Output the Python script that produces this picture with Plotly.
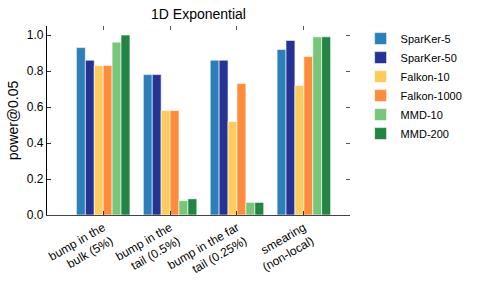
import plotly.graph_objects as go

categories = ["bump in the<br>bulk (5%)", "bump in the<br>tail (0.5%)",
              "bump in the far<br>tail (0.25%)", "smearing<br>(non-local)"]
series_names = ["SparKer-5", "SparKer-50", "Falkon-10", "Falkon-1000", "MMD-10", "MMD-200"]
sparker5 = [0.93, 0.78, 0.86, 0.92]
sparker50 = [0.86, 0.78, 0.86, 0.97]
falkon10 = [0.83, 0.58, 0.52, 0.72]
falkon1000 = [0.83, 0.58, 0.73, 0.88]
mmd10 = [0.96, 0.08, 0.07, 0.99]
mmd200 = [1.00, 0.09, 0.07, 0.99]
y_ticks = [0.0, 0.2, 0.4, 0.6, 0.8, 1.0]

values = [sparker5, sparker50, falkon10, falkon1000, mmd10, mmd200]
colors = ["#2c7fb8", "#253494", "#fecc5c", "#fd8d3c", "#78c679", "#238443"]
xpos = list(range(len(categories)))

font = "Liberation Sans, Arial, Helvetica, sans-serif"
fig = go.Figure()
for name, vals, c in zip(series_names, values, colors):
    fig.add_trace(go.Bar(x=xpos, y=vals, name=name, marker=dict(color=c, line=dict(color="white", width=0.6))))

# invisible trace for mirrored axes
fig.add_trace(go.Scatter(x=xpos, y=[0]*4, xaxis="x2", yaxis="y2", mode="markers",
                         marker=dict(opacity=0), showlegend=False, hoverinfo="skip"))

xr = [-0.84, 3.69]
yr = [0, 1.05]
fig.update_layout(
    width=479, height=287,
    margin=dict(l=47, r=129, t=26, b=72, autoexpand=False),
    paper_bgcolor="white", plot_bgcolor="white",
    font=dict(family=font, size=12, color="black"),
    title=dict(text="1D Exponential", x=(47 + 350) / 2 / 479, xanchor="center",
               y=1 - 14 / 287, yanchor="middle", font=dict(size=14)),
    barmode="group", bargap=0.2, bargroupgap=0,
    showlegend=True,
    legend=dict(x=1.035, y=1.01, xanchor="left", yanchor="top", font=dict(size=11),
                itemwidth=30, tracegroupgap=0, bgcolor="rgba(0,0,0,0)"),
    xaxis=dict(range=xr, tickvals=xpos, ticktext=categories, tickangle=-30, automargin=False,
               ticks="inside", ticklen=4, tickcolor="#333", showline=True, linecolor="#444",
               linewidth=1.2, showgrid=False, zeroline=False, tickfont=dict(size=12)),
    yaxis=dict(range=yr, tickvals=y_ticks, tickformat=".1f", ticks="inside", ticklen=4,
               automargin=False,
               tickcolor="#333", showline=True, linecolor="black", linewidth=1.2,
               showgrid=False, zeroline=False, title=dict(text="power@0.05", standoff=4),
               tickfont=dict(size=12)),
    xaxis2=dict(overlaying="x", side="top", range=xr, tickvals=xpos, showticklabels=False,
                automargin=False,
                ticks="inside", ticklen=4, tickcolor="#555", showline=False, showgrid=False,
                zeroline=False),
    yaxis2=dict(overlaying="y", side="right", range=yr, tickvals=y_ticks, showticklabels=False,
                automargin=False,
                ticks="inside", ticklen=4, tickcolor="#555", showline=False, showgrid=False,
                zeroline=False),
)
fig.write_html("out.html", config={"displayModeBar": False},
               post_script="document.body.style.margin='0';document.body.style.overflow='hidden';")
